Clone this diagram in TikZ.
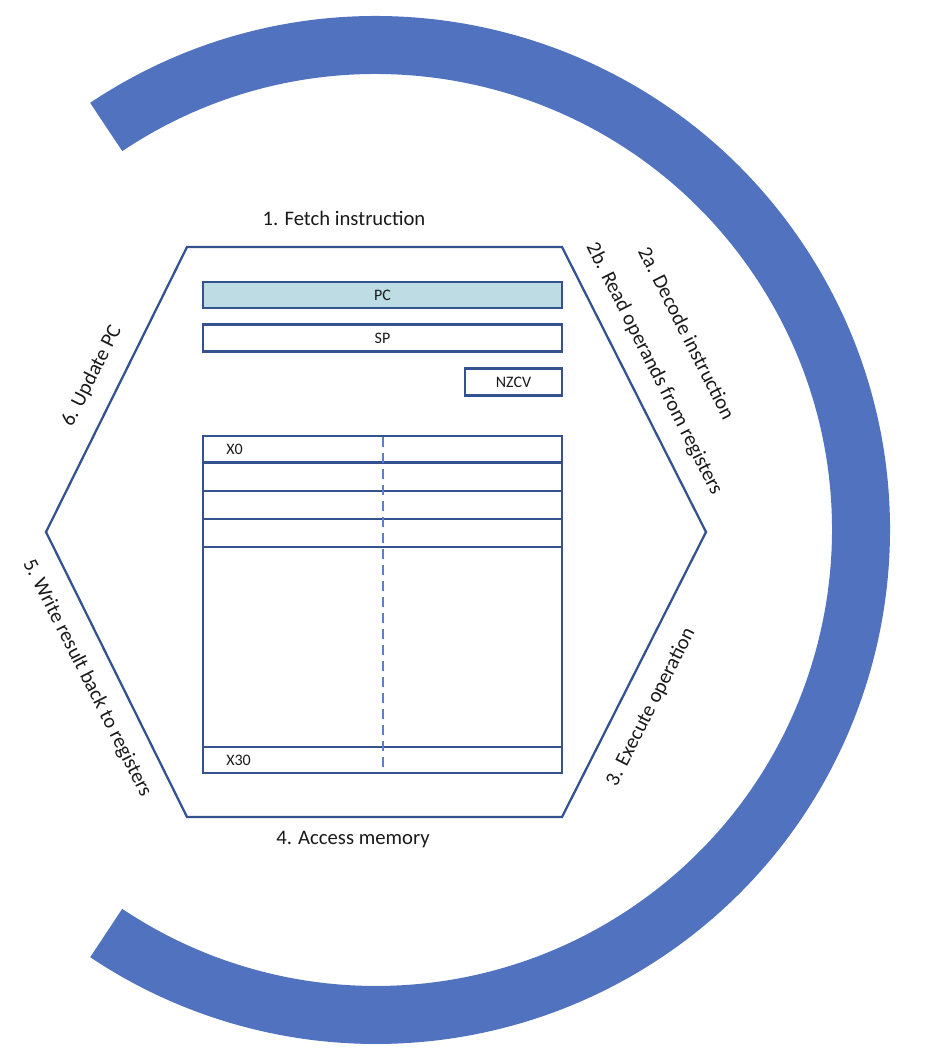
\documentclass[tikz,border=0pt]{standalone}
\usepackage{fontspec}
\setmainfont{Carlito}
\definecolor{arcblue}{HTML}{5172BF}
\definecolor{hexblue}{HTML}{34528F}
\definecolor{pcfill}{HTML}{BEDCE4}
\definecolor{dashblue}{HTML}{5B80C8}
\definecolor{txt}{HTML}{1A1A1A}
\begin{document}
\begin{tikzpicture}[x=0.75pt,y=-0.75pt,
  steplabel/.style={font=\fontsize{15.5pt}{18pt}\selectfont, text=txt, inner sep=0pt},
  regbox/.style={draw=hexblue, line width=2.1pt, minimum width=359*0.75pt, inner sep=0pt, font=\fontsize{12pt}{14pt}\selectfont, text=txt},
  reglabel/.style={font=\fontsize{12pt}{14pt}\selectfont, text=txt, inner sep=0pt, anchor=west},
  hexline/.style={draw=hexblue, line width=1.7pt, line join=miter}]
\useasboundingbox (0,0) rectangle (938,1060);
% cycle arc
\coordinate (c) at (376,530);
\draw[arcblue, line width=58*0.75pt] (c) ++(-123.8:485) arc[start angle=-123.8, end angle=123.8, radius=485];
% hexagon
\coordinate (h1) at (187,247);
\coordinate (h2) at (562,247);
\coordinate (h3) at (706,532);
\coordinate (h4) at (562,817);
\coordinate (h5) at (187,817);
\coordinate (h6) at (46,532);
\draw[hexline] (h1) -- (h2) -- (h3) -- (h4) -- (h5) -- (h6) -- cycle;
% special registers
\node[regbox, fill=pcfill, minimum height=26*0.75pt] (pc) at (382.5,295) {PC};
\node[regbox, minimum height=27*0.75pt] (sp) at (382.5,338) {SP};
\node[regbox, minimum width=97*0.75pt, minimum height=27*0.75pt] (nzcv) at (513.5,382) {NZCV};
% general registers
\node[regbox, minimum height=26*0.75pt] (x0) at (382.5,449) {};
\node[regbox, minimum height=28*0.75pt] (x1) at (382.5,477) {};
\node[regbox, minimum height=28*0.75pt] (x2) at (382.5,505) {};
\node[regbox, minimum height=28*0.75pt] (x3) at (382.5,533) {};
\node[regbox, minimum height=200*0.75pt] (xmid) at (382.5,647) {};
\node[regbox, minimum height=26*0.75pt] (x30) at (382.5,760) {};
\node[reglabel] (lx0) at (226,449) {X0};
\node[reglabel] (lx30) at (226,760) {X30};
\coordinate (dtop) at (383,437);
\coordinate (dbot) at (383,772);
\draw[dashblue, line width=1.9pt, dash pattern=on 7.5pt off 4.5pt] (dtop) -- (dbot);
% step labels
\node[steplabel] (s1) at (344,218) {1. Fetch instruction};
\node[steplabel, rotate=-63.2] (s2a) at (687,333) {2a. Decode instruction};
\node[steplabel, rotate=-63.2] (s2b) at (654,369) {2b. Read operands from registers};
\node[steplabel, rotate=63.2] (s3) at (651,707) {3. Execute operation};
\node[steplabel] (s4) at (353,840) {4. Access memory};
\node[steplabel, rotate=-63.2] (s5) at (87,678) {5. Write result back to registers};
\node[steplabel, rotate=63.2] (s6) at (92,376) {6. Update PC};
\end{tikzpicture}
\end{document}
